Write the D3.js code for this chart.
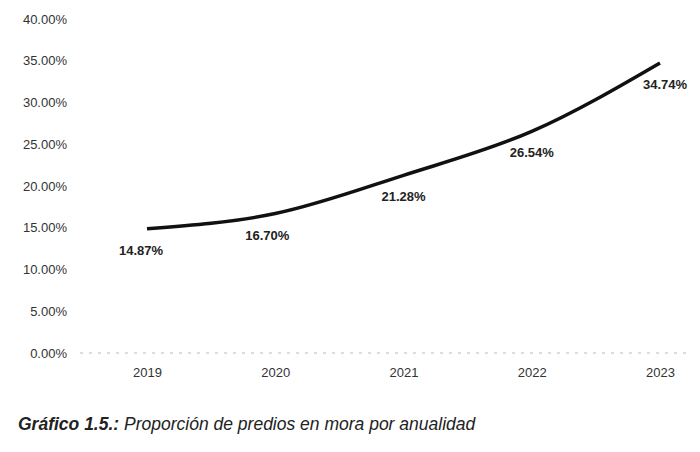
<!DOCTYPE html>
<html><head><meta charset="utf-8">
<script src="https://cdn.jsdelivr.net/npm/d3@7"></script>
<style>body{margin:0;background:#fff}</style>
</head><body><div id="chart"></div>
<script>
const years = ["2019", "2020", "2021", "2022", "2023"];
const values = [14.87, 16.70, 21.28, 26.54, 34.74];
const yTicks = [0, 5, 10, 15, 20, 25, 30, 35, 40];

const w = 700, h = 452;
const svg = d3.select("#chart").append("svg").attr("width", w).attr("height", h);

const x = d3.scalePoint().domain(years).range([147, 660]);
const y = d3.scaleLinear().domain([0, 40]).range([353, 19]);

// y axis labels
const yAxis = d3.axisLeft(y).tickValues(yTicks).tickSize(0).tickFormat(d => d.toFixed(2) + "%");
svg.append("g").attr("transform", "translate(70,0)").call(yAxis)
  .call(g => g.select(".domain").remove())
  .selectAll("text").attr("font-family", "Liberation Sans, Arial").attr("font-size", 13).attr("fill", "#333");

// baseline
svg.append("line").attr("x1", 80).attr("x2", 690).attr("y1", y(0)).attr("y2", y(0))
  .attr("stroke", "#bbb").attr("stroke-dasharray", "3,6");

// x axis
const xAxis = d3.axisBottom(x).tickSize(0);
svg.append("g").attr("transform", `translate(0,${y(0) + 12})`).call(xAxis)
  .call(g => g.select(".domain").remove())
  .selectAll("text").attr("font-family", "Liberation Sans, Arial").attr("font-size", 13).attr("fill", "#333");

// line
const line = d3.line().x((d, i) => x(years[i])).y(d => y(d)).curve(d3.curveMonotoneX);
svg.append("path").datum(values).attr("d", line).attr("fill", "none")
  .attr("stroke", "#111").attr("stroke-width", 3.5);

// labels
svg.selectAll(".lbl").data(values).enter().append("text")
  .attr("x", (d, i) => x(years[i]) - (i === 0 ? 6 : i === 1 ? 8 : 0) + (i === 4 ? 5 : 0))
  .attr("y", d => y(d) + 26)
  .attr("text-anchor", "middle")
  .attr("font-family", "Liberation Sans, Arial").attr("font-weight", "bold").attr("font-size", 13)
  .attr("fill", "#222")
  .text(d => d.toFixed(2) + "%");

// caption
const cap = svg.append("text").attr("x", 18).attr("y", 430)
  .attr("font-family", "Liberation Sans, Arial").attr("font-size", 17.5).attr("font-style", "italic").attr("fill", "#222");
cap.append("tspan").attr("font-weight", "bold").text("Gráfico 1.5.:");
cap.append("tspan").text("  Proporción de predios en mora por anualidad");
</script></body></html>
